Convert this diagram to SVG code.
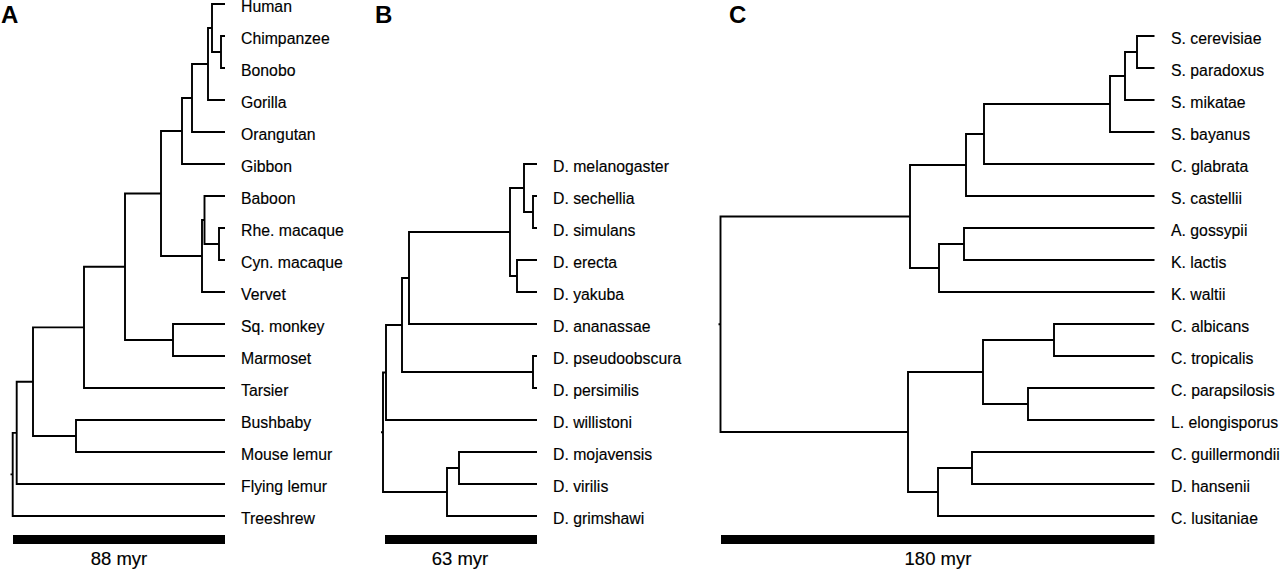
<svg xmlns="http://www.w3.org/2000/svg" width="1280" height="570" viewBox="0 0 1280 570">
<style>
.br{fill:none;stroke:#000;stroke-width:1.9;stroke-linejoin:miter;stroke-linecap:butt}
.tx{font-family:"Liberation Sans",Arial,Helvetica,sans-serif;font-size:15.8px;fill:#000;stroke:#000;stroke-width:0.15}
.pl{font-family:"Liberation Sans",Arial,Helvetica,sans-serif;font-size:24px;font-weight:bold;fill:#000}
.sl{font-family:"Liberation Sans",Arial,Helvetica,sans-serif;font-size:18.5px;fill:#000;stroke:#000;stroke-width:0.15;text-anchor:middle}
.bar{fill:#000}
</style>
<rect width="1280" height="570" fill="#fff"/>
<g id="panel-labels">
<text class="pl" x="1" y="23">A</text>
<text class="pl" x="375" y="23">B</text>
<text class="pl" x="729" y="23">C</text>
</g>
<g id="connectors">
<g id="branches-A">
<path class="br" d="M225 36H221V68H225"/>
<path class="br" d="M225 4H212V52H221"/>
<path class="br" d="M212 28H208V100H225"/>
<path class="br" d="M208 64H192V132H225"/>
<path class="br" d="M192 98H182V164H225"/>
<path class="br" d="M225 228H219V260H225"/>
<path class="br" d="M225 196H204.5V244H219"/>
<path class="br" d="M204.5 220H202V292H225"/>
<path class="br" d="M182 131H161V256H202"/>
<path class="br" d="M225 324H173V356H225"/>
<path class="br" d="M161 193.5H125V340H173"/>
<path class="br" d="M125 266.75H84V388H225"/>
<path class="br" d="M225 420H76V452H225"/>
<path class="br" d="M84 327.4H33V436H76"/>
<path class="br" d="M33 381.7H16.7V484H225"/>
<path class="br" d="M16.7 432.85H12.7V516H225M10.5 474.4H12.7"/>
</g>
<g id="branches-B">
<path class="br" d="M537 196H533V228H537"/>
<path class="br" d="M537 164H524V212H533"/>
<path class="br" d="M537 260H517V292H537"/>
<path class="br" d="M524 188H510V276H517"/>
<path class="br" d="M510 232H409V324H537"/>
<path class="br" d="M537 356H533V388H537"/>
<path class="br" d="M409 278H402V372H533"/>
<path class="br" d="M402 325H386V420H537"/>
<path class="br" d="M537 452H459V484H537"/>
<path class="br" d="M459 468H447V516H537"/>
<path class="br" d="M386 372.5H383V492H447M381 432.25H383"/>
</g>
<g id="branches-C">
<path class="br" d="M1154.5 36H1137V68H1154.5"/>
<path class="br" d="M1137 52H1125V100H1154.5"/>
<path class="br" d="M1125 76H1110V132H1154.5"/>
<path class="br" d="M1110 104H984V164H1154.5"/>
<path class="br" d="M984 134H966V196H1154.5"/>
<path class="br" d="M1154.5 228H964V260H1154.5"/>
<path class="br" d="M964 244H939V292H1154.5"/>
<path class="br" d="M966 165H910V268H939"/>
<path class="br" d="M1154.5 324H1054V356H1154.5"/>
<path class="br" d="M1154.5 388H1028V420H1154.5"/>
<path class="br" d="M1054 340H983V404H1028"/>
<path class="br" d="M1154.5 452H972V484H1154.5"/>
<path class="br" d="M972 468H938V516H1154.5"/>
<path class="br" d="M983 372H908V492H938"/>
<path class="br" d="M910 216.5H720.5V432H908M718.5 324.25H720.5"/>
</g>
</g>
<g id="taxa-A">
<g id="human"><text class="tx" x="241" y="12">Human</text></g>
<g id="chimpanzee"><text class="tx" x="241" y="44">Chimpanzee</text></g>
<g id="bonobo"><text class="tx" x="241" y="76">Bonobo</text></g>
<g id="gorilla"><text class="tx" x="241" y="108">Gorilla</text></g>
<g id="orangutan"><text class="tx" x="241" y="140">Orangutan</text></g>
<g id="gibbon"><text class="tx" x="241" y="172">Gibbon</text></g>
<g id="baboon"><text class="tx" x="241" y="204">Baboon</text></g>
<g id="rhe-macaque"><text class="tx" x="241" y="236">Rhe. macaque</text></g>
<g id="cyn-macaque"><text class="tx" x="241" y="268">Cyn. macaque</text></g>
<g id="vervet"><text class="tx" x="241" y="300">Vervet</text></g>
<g id="sq-monkey"><text class="tx" x="241" y="332">Sq. monkey</text></g>
<g id="marmoset"><text class="tx" x="241" y="364">Marmoset</text></g>
<g id="tarsier"><text class="tx" x="241" y="396">Tarsier</text></g>
<g id="bushbaby"><text class="tx" x="241" y="428">Bushbaby</text></g>
<g id="mouse-lemur"><text class="tx" x="241" y="460">Mouse lemur</text></g>
<g id="flying-lemur"><text class="tx" x="241" y="492">Flying lemur</text></g>
<g id="treeshrew"><text class="tx" x="241" y="524">Treeshrew</text></g>
</g>
<g id="taxa-B">
<g id="d-melanogaster"><text class="tx" x="553" y="172">D. melanogaster</text></g>
<g id="d-sechellia"><text class="tx" x="553" y="204">D. sechellia</text></g>
<g id="d-simulans"><text class="tx" x="553" y="236">D. simulans</text></g>
<g id="d-erecta"><text class="tx" x="553" y="268">D. erecta</text></g>
<g id="d-yakuba"><text class="tx" x="553" y="300">D. yakuba</text></g>
<g id="d-ananassae"><text class="tx" x="553" y="332">D. ananassae</text></g>
<g id="d-pseudoobscura"><text class="tx" x="553" y="364">D. pseudoobscura</text></g>
<g id="d-persimilis"><text class="tx" x="553" y="396">D. persimilis</text></g>
<g id="d-willistoni"><text class="tx" x="553" y="428">D. willistoni</text></g>
<g id="d-mojavensis"><text class="tx" x="553" y="460">D. mojavensis</text></g>
<g id="d-virilis"><text class="tx" x="553" y="492">D. virilis</text></g>
<g id="d-grimshawi"><text class="tx" x="553" y="524">D. grimshawi</text></g>
</g>
<g id="taxa-C">
<g id="s-cerevisiae"><text class="tx" x="1171" y="44">S. cerevisiae</text></g>
<g id="s-paradoxus"><text class="tx" x="1171" y="76">S. paradoxus</text></g>
<g id="s-mikatae"><text class="tx" x="1171" y="108">S. mikatae</text></g>
<g id="s-bayanus"><text class="tx" x="1171" y="140">S. bayanus</text></g>
<g id="c-glabrata"><text class="tx" x="1171" y="172">C. glabrata</text></g>
<g id="s-castellii"><text class="tx" x="1171" y="204">S. castellii</text></g>
<g id="a-gossypii"><text class="tx" x="1171" y="236">A. gossypii</text></g>
<g id="k-lactis"><text class="tx" x="1171" y="268">K. lactis</text></g>
<g id="k-waltii"><text class="tx" x="1171" y="300">K. waltii</text></g>
<g id="c-albicans"><text class="tx" x="1171" y="332">C. albicans</text></g>
<g id="c-tropicalis"><text class="tx" x="1171" y="364">C. tropicalis</text></g>
<g id="c-parapsilosis"><text class="tx" x="1171" y="396">C. parapsilosis</text></g>
<g id="l-elongisporus"><text class="tx" x="1171" y="428">L. elongisporus</text></g>
<g id="c-guillermondii"><text class="tx" x="1171" y="460">C. guillermondii</text></g>
<g id="d-hansenii"><text class="tx" x="1171" y="492">D. hansenii</text></g>
<g id="c-lusitaniae"><text class="tx" x="1171" y="524">C. lusitaniae</text></g>
</g>
<g id="scale-bars">
<g id="scale-A"><rect class="bar" x="13" y="535" width="212" height="9"/><text class="sl" x="119" y="565">88 myr</text></g>
<g id="scale-B"><rect class="bar" x="385" y="535" width="152" height="9"/><text class="sl" x="460" y="565">63 myr</text></g>
<g id="scale-C"><rect class="bar" x="721" y="535" width="433.5" height="9"/><text class="sl" x="938" y="565">180 myr</text></g>
</g>
</svg>
